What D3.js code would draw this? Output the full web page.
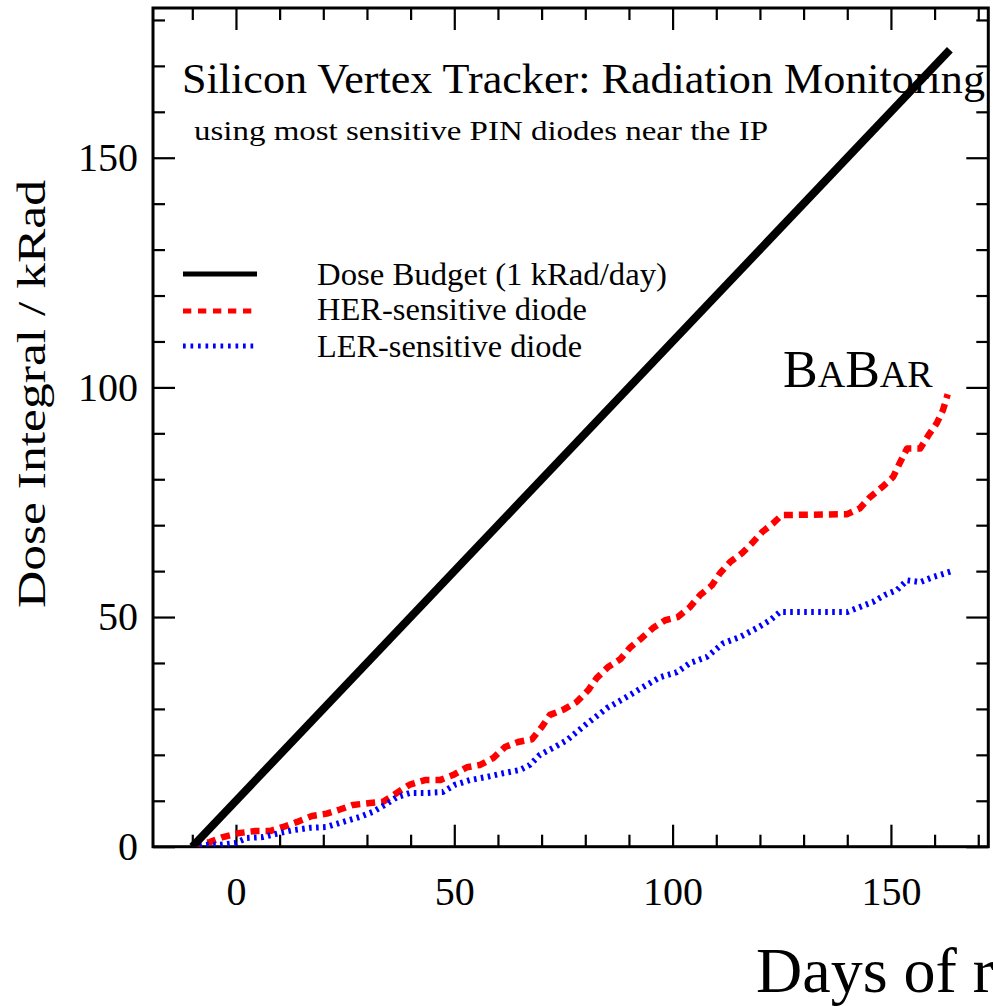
<!DOCTYPE html>
<html>
<head>
<meta charset="utf-8">
<script src="https://cdn.jsdelivr.net/npm/d3@7"></script>
<style>
  html, body { margin: 0; padding: 0; background: #fff; overflow: hidden; }
  svg text { font-family: "Liberation Serif", "DejaVu Serif", serif; fill: #000; }
</style>
</head>
<body>
<div id="chart"></div>
<script>
const width = 993;
const height = 1006;

// Dose budget: 1 kRad/day from day -10
const budgetDays = [-10, 163.5];
const budgetDose = [0, 173.5];

// HER-sensitive diode
const herDays = [-10, -6, -3, 0.9, 4.4, 7.8, 10.8, 14, 17.4, 20.8, 23.8, 26.8, 30.7, 33.7, 36.8, 39.8,
  43.3, 46.7, 49.7, 52.9, 55.9, 58.9, 61.6, 64.6, 67.8, 70, 71.9, 74.9, 78, 80.7, 82.6, 85.2, 88,
  90.2, 92.9, 95.5, 98.3, 101.2, 104, 106.3, 109, 110.9, 113.2, 115.9, 118.2, 120.5, 123, 125,
  140, 142.9, 145.2, 148, 150.5, 152, 153.7, 156.7, 158.6, 160.5, 161.9, 163];
const herDose = [0.4, 1, 2.1, 3, 3.4, 3.4, 4.3, 5.4, 6.7, 7.2, 8.1, 9.1, 9.5, 9.8, 11.7, 13.5,
  14.5, 14.5, 15.6, 17.3, 17.8, 19.3, 21.7, 22.8, 23.4, 26, 28.7, 29.8, 31.5, 34.1, 36.7, 39.1, 40.8,
  43.3, 45.4, 47.6, 49.3, 50, 52.2, 54.8, 56.9, 59.6, 62, 63.9, 66.1, 68.5, 70.4, 72.2,
  72.4, 73.7, 76.1, 78.3, 80.5, 83.5, 86.7, 86.7, 89.6, 92.2, 95, 98.5];

// LER-sensitive diode
const lerDays = [-10, -6.7, -3.7, -0.2, 2.5, 6.2, 10.1, 13.1, 16.9, 20.8, 24.5, 28.4, 31.4, 34.1,
  36.9, 39.9, 43.7, 47.4, 50.2, 53.6, 57.5, 61.2, 65, 67.3, 69.6, 72.6, 75.8, 80, 85, 89.5, 93.3,
  97.1, 101, 104, 107.8, 111.6, 115.5, 119.3, 122.3, 124.6, 140, 142.9, 145.9, 148.6, 151.4,
  153.7, 156.7, 159.6, 164];
const lerDose = [0, 0.4, 0.4, 0.8, 1.9, 2.1, 3, 3.6, 4.1, 4.3, 5.4, 6.5, 7.6, 9.1,
  10.8, 11.7, 11.7, 11.9, 13.5, 14.5, 15.2, 16, 16.7, 17.8, 20, 21.5, 23.2, 26.5, 30.2, 32.6, 34.8,
  36.9, 38, 40, 41.3, 44.3, 45.7, 47.6, 49.3, 51.1, 51.1, 52.2, 53.3, 54.8, 55.9,
  58, 57.6, 58.7, 60];

const xMajor = [0, 50, 100, 150];
const xMinor = [-10, 10, 20, 30, 40, 60, 70, 80, 90, 110, 120, 130, 140, 160, 170];
const yMajor = [0, 50, 100, 150];
const yMinor = [10, 20, 30, 40, 60, 70, 80, 90, 110, 120, 130, 140, 160, 170, 180];

const legendLabels = ["Dose Budget (1 kRad/day)", "HER-sensitive diode", "LER-sensitive diode"];

const plotLeft = 153, plotRight = 988.3, plotTop = 8, plotBottom = 846.7;

const svg = d3.select("#chart")
    .append("svg")
        .attr("width", width)
        .attr("height", height)

const x = d3.scaleLinear().domain([-19, 172.3]).range([plotLeft, plotRight]);
const y = d3.scaleLinear().domain([0, 182.6]).range([plotBottom, plotTop]);

// ticks on all four sides, pointing inwards
function styleAxis(g) {
    g.select(".domain").remove();
    g.selectAll(".tick line").attr("stroke", "#000").attr("stroke-width", 2.2);
    g.selectAll(".tick text").attr("font-size", 40).attr("fill", "#000")
        .style("font-family", '"Liberation Serif", "DejaVu Serif", serif');
}

svg.append("g").attr("transform", `translate(0,${plotBottom})`)
    .call(d3.axisBottom(x).tickValues(xMajor).tickSize(-22).tickPadding(30).tickFormat(d3.format("d")))
    .call(styleAxis);
svg.append("g").attr("transform", `translate(0,${plotBottom})`)
    .call(d3.axisBottom(x).tickValues(xMinor).tickSize(-12).tickFormat(""))
    .call(styleAxis);
svg.append("g").attr("transform", `translate(0,${plotTop})`)
    .call(d3.axisTop(x).tickValues(xMajor).tickSize(-22).tickFormat(""))
    .call(styleAxis);
svg.append("g").attr("transform", `translate(0,${plotTop})`)
    .call(d3.axisTop(x).tickValues(xMinor).tickSize(-12).tickFormat(""))
    .call(styleAxis);

svg.append("g").attr("transform", `translate(${plotLeft},0)`)
    .call(d3.axisLeft(y).tickValues(yMajor).tickSize(-22).tickPadding(15).tickFormat(d3.format("d")))
    .call(styleAxis);
svg.append("g").attr("transform", `translate(${plotLeft},0)`)
    .call(d3.axisLeft(y).tickValues(yMinor).tickSize(-12).tickFormat(""))
    .call(styleAxis);
svg.append("g").attr("transform", `translate(${plotRight},0)`)
    .call(d3.axisRight(y).tickValues(yMajor).tickSize(-22).tickFormat(""))
    .call(styleAxis);
svg.append("g").attr("transform", `translate(${plotRight},0)`)
    .call(d3.axisRight(y).tickValues(yMinor).tickSize(-12).tickFormat(""))
    .call(styleAxis);

// frame
svg.append("rect")
    .attr("x", plotLeft).attr("y", plotTop)
    .attr("width", plotRight - plotLeft).attr("height", plotBottom - plotTop)
    .attr("fill", "none").attr("stroke", "#000").attr("stroke-width", 3);

svg.append("clipPath").attr("id", "plot-clip")
    .append("rect")
        .attr("x", plotLeft).attr("y", plotTop)
        .attr("width", plotRight - plotLeft).attr("height", plotBottom - plotTop);

const line = d3.line().x(d => x(d[0])).y(d => y(d[1]));

const series = [
    {days: herDays, dose: herDose, color: "#ff0000", width: 6.5, dash: "9,6"},
    {days: lerDays, dose: lerDose, color: "#0000ff", width: 6, dash: "2.6,4.4"},
    {days: budgetDays, dose: budgetDose, color: "#000000", width: 8, dash: null}
];

svg.append("g").attr("clip-path", "url(#plot-clip)")
    .selectAll("path")
    .data(series)
    .enter()
    .append("path")
        .attr("d", s => line(d3.zip(s.days, s.dose)))
        .attr("fill", "none")
        .attr("stroke", s => s.color)
        .attr("stroke-width", s => s.width)
        .attr("stroke-dasharray", s => s.dash)
        .attr("stroke-linejoin", "round");

// title text
svg.append("text")
    .attr("x", 182).attr("y", 93)
    .attr("font-size", 42)
    .attr("textLength", 803).attr("lengthAdjust", "spacingAndGlyphs")
    .text("Silicon Vertex Tracker: Radiation Monitoring");

svg.append("text")
    .attr("x", 194).attr("y", 140)
    .attr("font-size", 27)
    .attr("textLength", 574).attr("lengthAdjust", "spacingAndGlyphs")
    .text("using most sensitive PIN diodes near the IP");

// legend
const legendSeries = [series[2], series[0], series[1]];
const legendY = [274, 311, 346];
const legendBase = [285, 320, 357];
const legendLen = [350, 270, 265];

const legend = svg.append("g").attr("id", "legend");
legend.selectAll("line")
    .data(legendSeries)
    .enter()
    .append("line")
        .attr("x1", 183).attr("x2", 257)
        .attr("y1", (d, i) => legendY[i]).attr("y2", (d, i) => legendY[i])
        .attr("stroke", d => d.color)
        .attr("stroke-width", 5)
        .attr("stroke-dasharray", (d, i) => i == 0 ? null : (i == 1 ? "8.3,6.7" : "2.7,4.8"));
legend.selectAll("text")
    .data(legendLabels)
    .enter()
    .append("text")
        .attr("x", 317)
        .attr("y", (d, i) => legendBase[i])
        .attr("font-size", 31)
        .attr("textLength", (d, i) => legendLen[i]).attr("lengthAdjust", "spacingAndGlyphs")
        .text(d => d);

// BaBar logo in small caps
const babar = svg.append("text").attr("x", 783).attr("y", 387);
[["B", 52], ["A", 38], ["B", 52], ["AR", 38]].forEach(p => {
    babar.append("tspan").attr("font-size", p[1]).text(p[0]);
});

// axis titles
svg.append("text")
    .attr("transform", "translate(45,394) rotate(-90)")
    .attr("text-anchor", "middle")
    .attr("font-size", 40)
    .attr("textLength", 428).attr("lengthAdjust", "spacingAndGlyphs")
    .text("Dose Integral / kRad");

svg.append("text")
    .attr("x", 756).attr("y", 992)
    .attr("font-size", 64)
    .text("Days of r");
</script>
</body>
</html>
